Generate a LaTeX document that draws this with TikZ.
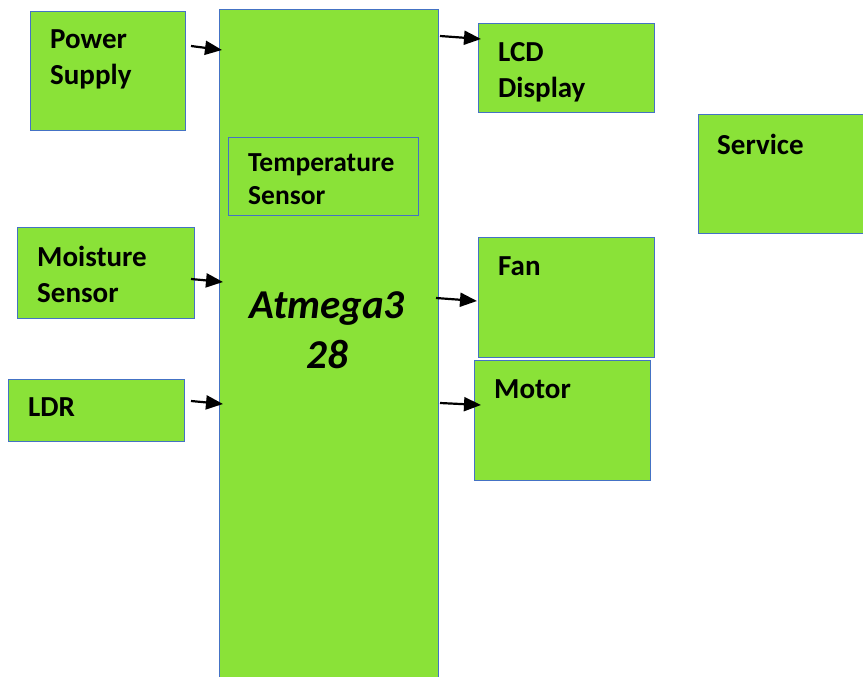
\documentclass[tikz,border=0pt]{standalone}
\usepackage{fontspec}
\setmainfont{Carlito}
\usetikzlibrary{arrows.meta,calc}
\definecolor{boxgreen}{RGB}{138,226,56}
\definecolor{boxblue}{RGB}{68,114,196}
\tikzset{
  box/.style={draw=boxblue, line width=0.9pt, fill=boxgreen, anchor=north west, inner sep=0pt, outer sep=0pt},
  lbl/.style={anchor=north west, inner sep=0pt, align=left, font=\fontsize{29}{36}\selectfont\bfseries},
  arr/.style={line width=2.2pt, -{Triangle[length=17pt,width=14pt]}}
}
\begin{document}
\begin{tikzpicture}[x=1pt,y=-1pt]
\useasboundingbox (0,0) rectangle (863,677);
% boxes
\node[box, minimum width=219pt, minimum height=675pt] (mcu) at (219,9) {};
\node[box, minimum width=155pt, minimum height=119pt] (ps) at (30,11) {};
\node[box, minimum width=176pt, minimum height=89pt] (lcd) at (478,23) {};
\node[box, minimum width=170pt, minimum height=119pt] (srv) at (698,114) {};
\node[box, minimum width=190pt, minimum height=78pt] (ts) at (228,137) {};
\node[box, minimum width=177pt, minimum height=91pt] (ms) at (17,227) {};
\node[box, minimum width=176pt, minimum height=120pt] (fan) at (478,237) {};
\node[box, minimum width=176pt, minimum height=120pt] (mot) at (474,360) {};
\node[box, minimum width=176pt, minimum height=62pt] (ldr) at (8,379) {};
% labels
\node[lbl] (psT) at ($(ps.north west)+(20,18)$) {Power\\Supply};
\node[lbl] (lcdT) at ($(lcd.north west)+(20,19)$) {LCD\\Display};
\node[lbl] (srvT) at ($(srv.north west)+(19,20)$) {Service};
\node[lbl, font=\fontsize{27.5}{33}\selectfont\bfseries] (tsT) at ($(ts.north west)+(20,16)$) {Temperature\\Sensor};
\node[lbl] (msT) at ($(ms.north west)+(20,19)$) {Moisture\\Sensor};
\node[lbl] (fanT) at ($(fan.north west)+(20,19)$) {Fan};
\node[lbl] (motT) at ($(mot.north west)+(20,19)$) {Motor};
\node[lbl] (ldrT) at ($(ldr.north west)+(20,18)$) {LDR};
\node[anchor=north, inner sep=0pt, align=center, font=\fontsize{41}{50}\selectfont\bfseries\itshape] (mcuT) at (327,291) {Atmega3\\28};
% arrows
\draw[arr] ($(ps.north east)+(6,35)$) -- ($(mcu.north west)+(3,41)$);
\draw[arr] ($(mcu.north east)+(2,27)$) -- ($(lcd.north west)+(3,16)$);
\draw[arr] ($(ms.north east)+(-3,52)$) -- ($(mcu.north west)+(4,273)$);
\draw[arr] ($(mcu.north east)+(-2,289)$) -- ($(fan.north west)+(-1,64)$);
\draw[arr] ($(ldr.north east)+(7,22)$) -- ($(mcu.north west)+(4,395)$);
\draw[arr] ($(mcu.north east)+(2,394)$) -- ($(mot.north west)+(7,45)$);
\end{tikzpicture}
\end{document}
